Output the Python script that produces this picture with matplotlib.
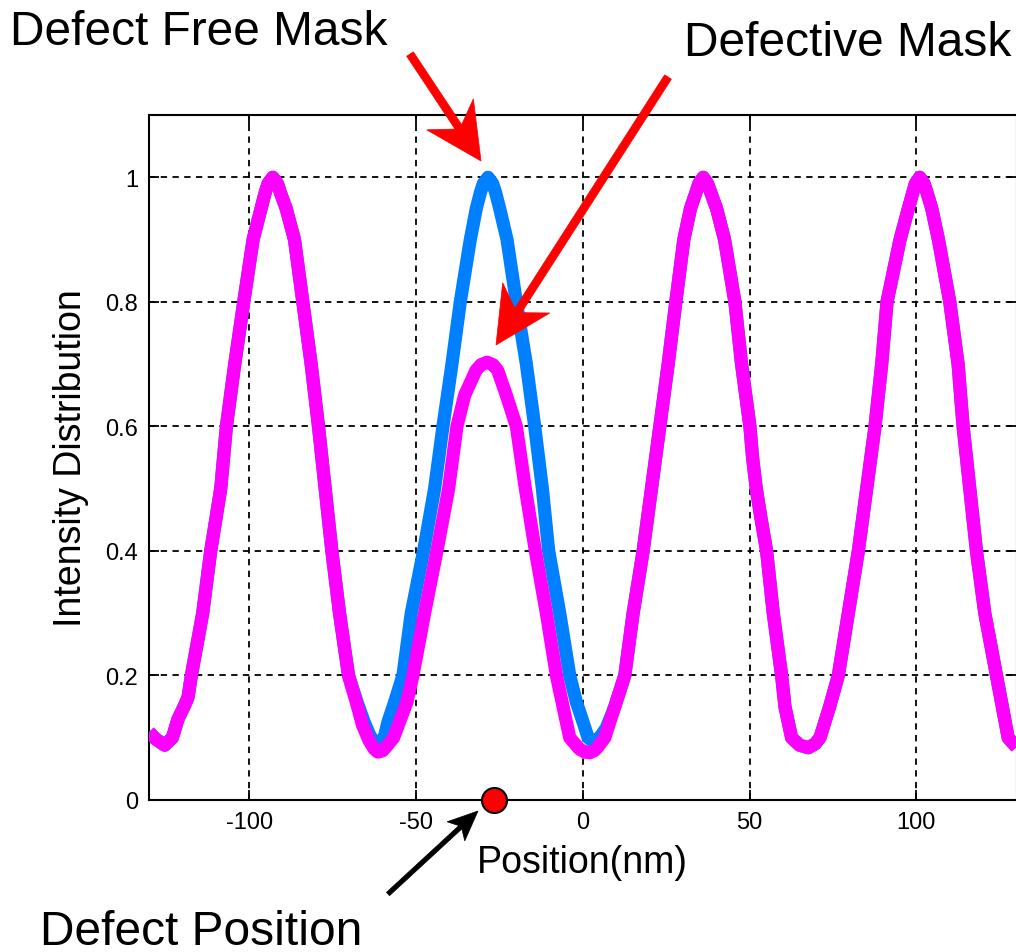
import numpy as np
import matplotlib
matplotlib.use('Agg')
import matplotlib.pyplot as plt
from matplotlib.patches import Polygon

# Intensity profiles across the line pattern (nm, normalised intensity)
free_pos = [-130, -128, -125.3, -123, -121.3, -119.5, -118.3, -117.3, -113.9, -111.5,
            -108.5, -106.8, -104.3, -101.6, -98.8, -96.4, -95.2, -94.3, -92.9, -91.5,
            -90.6, -88.9, -86.4, -83.9, -81.4, -79.2, -77.2, -75.2, -72.9, -70.2,
            -67.5, -65.5, -63.5, -62.3, -61.4, -60.3, -59.5, -58.4, -56.4, -53.9,
            -51.4, -47.7, -44.4, -41.9, -39.2, -36.7, -33.7, -31.9, -30.7, -29.8,
            -28.4, -27.0, -26.1, -24.9, -22.7, -19.9, -16.9, -14.4, -12.1, -10.2,
            -6.9, -3.9, -1.9, 0.1, 1.6, 2.9, 4.2, 5.0, 7.0, 9.6,
            12.6, 15.1, 18.1, 20.6, 23.1, 25.6, 27.9, 30.3, 32.3, 33.9,
            34.8, 36.1, 37.4, 38.4, 40.1, 42.5, 45.6, 47.6, 50.1, 50.9,
            52.0, 53.5, 55.1, 57.1, 59.6, 60.6, 62.6, 65.0, 67.6, 69.6,
            71.1, 74.0, 76.6, 79.6, 82.6, 85.1, 87.6, 89.6, 91.2, 95.1,
            97.6, 98.9, 99.7, 101.0, 102.3, 103.2, 104.6, 106.6, 110.0, 112.5,
            114.0, 116.0, 118.0, 120.5, 124.0, 127.5, 130]
free_int = [0.109, 0.098, 0.088, 0.10, 0.13, 0.15, 0.165, 0.20, 0.30, 0.40,
            0.50, 0.60, 0.70, 0.80, 0.90, 0.95, 0.975, 0.99, 1.00, 0.99,
            0.975, 0.95, 0.90, 0.80, 0.70, 0.60, 0.50, 0.40, 0.30, 0.20,
            0.155, 0.125, 0.10, 0.095, 0.093, 0.095, 0.10, 0.125, 0.157, 0.20,
            0.30, 0.40, 0.50, 0.60, 0.70, 0.80, 0.90, 0.95, 0.975, 0.99,
            1.00, 0.99, 0.975, 0.95, 0.90, 0.80, 0.70, 0.60, 0.50, 0.40,
            0.30, 0.20, 0.157, 0.125, 0.10, 0.095, 0.097, 0.10, 0.115, 0.15,
            0.20, 0.30, 0.40, 0.50, 0.60, 0.70, 0.80, 0.90, 0.95, 0.975,
            0.99, 1.00, 0.99, 0.975, 0.95, 0.90, 0.80, 0.70, 0.60, 0.55,
            0.50, 0.45, 0.40, 0.30, 0.20, 0.15, 0.10, 0.088, 0.084, 0.09,
            0.10, 0.15, 0.20, 0.30, 0.40, 0.50, 0.60, 0.70, 0.80, 0.90,
            0.95, 0.975, 0.99, 1.00, 0.99, 0.975, 0.95, 0.90, 0.80, 0.70,
            0.60, 0.50, 0.40, 0.30, 0.20, 0.10, 0.085]

defect_pos = [-130, -128, -125.3, -123, -121.3, -119.5, -118.3, -117.3, -113.9, -111.5,
              -108.5, -106.8, -104.3, -101.6, -98.8, -96.4, -95.2, -94.3, -92.9, -91.5,
              -90.6, -88.9, -86.4, -83.9, -81.4, -79.2, -77.2, -75.2, -72.9, -70.2,
              -67.5, -66.0, -64.0, -62.5, -61.4, -60.0, -59.0, -56.7, -52.7, -50.9,
              -47.4, -43.7, -40.2, -37.7, -35.4, -32.0, -30.5, -28.7, -26.9, -25.5,
              -22.9, -19.9, -17.2, -14.2, -10.9, -7.9, -3.9, -1.0, 0.6, 2.1,
              3.4, 4.5, 6.6, 9.6, 12.6, 15.1, 18.1, 20.6, 23.1, 25.6,
              27.9, 30.3, 32.3, 33.9, 34.8, 36.1, 37.4, 38.4, 40.1, 42.5,
              45.6, 47.6, 50.1, 50.9, 52.0, 53.5, 55.1, 57.1, 59.6, 60.6,
              62.6, 65.0, 67.6, 69.6, 71.1, 74.0, 76.6, 79.6, 82.6, 85.1,
              87.6, 89.6, 91.2, 95.1, 97.6, 98.9, 99.7, 101.0, 102.3, 103.2,
              104.6, 106.6, 110.0, 112.5, 114.0, 116.0, 118.0, 120.5, 124.0, 127.5,
              130]
defect_int = [0.109, 0.098, 0.088, 0.10, 0.13, 0.15, 0.165, 0.20, 0.30, 0.40,
              0.50, 0.60, 0.70, 0.80, 0.90, 0.95, 0.975, 0.99, 1.00, 0.99,
              0.975, 0.95, 0.90, 0.80, 0.70, 0.60, 0.50, 0.40, 0.30, 0.20,
              0.15, 0.12, 0.095, 0.082, 0.077, 0.079, 0.085, 0.10, 0.157, 0.20,
              0.30, 0.40, 0.50, 0.60, 0.65, 0.69, 0.699, 0.703, 0.699, 0.69,
              0.65, 0.60, 0.50, 0.40, 0.30, 0.20, 0.10, 0.082, 0.077, 0.076,
              0.079, 0.085, 0.10, 0.15, 0.20, 0.30, 0.40, 0.50, 0.60, 0.70,
              0.80, 0.90, 0.95, 0.975, 0.99, 1.00, 0.99, 0.975, 0.95, 0.90,
              0.80, 0.70, 0.60, 0.55, 0.50, 0.45, 0.40, 0.30, 0.20, 0.15,
              0.10, 0.088, 0.084, 0.09, 0.10, 0.15, 0.20, 0.30, 0.40, 0.50,
              0.60, 0.70, 0.80, 0.90, 0.95, 0.975, 0.99, 1.00, 0.99, 0.975,
              0.95, 0.90, 0.80, 0.70, 0.60, 0.50, 0.40, 0.30, 0.20, 0.10,
              0.085]

defect_x = -26.6
xticks = [-100, -50, 0, 50, 100]
yticks = [0, 0.2, 0.4, 0.6, 0.8, 1.0]
ytick_labels = ['0', '0.2', '0.4', '0.6', '0.8', '1']

W, H = 1016, 953


def draw_arrow(fig, tail, tip, shaft_w, head_len, head_w, notch, color):
    # arrow with a notched head, coordinates in pixels from the top-left corner
    tail = np.array(tail, float)
    tip = np.array(tip, float)
    u = (tip - tail) / np.linalg.norm(tip - tail)
    n = np.array([-u[1], u[0]])
    neck = tip - (head_len - notch) * u
    wing = tip - head_len * u
    pts = [tail + n * shaft_w / 2, neck + n * shaft_w / 2, wing + n * head_w / 2, tip,
           wing - n * head_w / 2, neck - n * shaft_w / 2, tail - n * shaft_w / 2]
    pts = [(p[0] / W, 1 - p[1] / H) for p in pts]
    fig.patches.append(Polygon(pts, closed=True, facecolor=color, edgecolor=color,
                               linewidth=0.5, transform=fig.transFigure, figure=fig))


plt.rcParams['font.family'] = ['Liberation Sans', 'DejaVu Sans']
plt.rcParams['axes.unicode_minus'] = False

fig = plt.figure(figsize=(W / 100, H / 100), dpi=100)
ax = fig.add_axes([149 / W, 152 / H, 867.5 / W, 685 / H])

ax.plot(free_pos, free_int, color='#0080ff', linewidth=9.5,
        solid_joinstyle='round', solid_capstyle='butt', zorder=3)
ax.plot(defect_pos, defect_int, color='#ff00ff', linewidth=9.5,
        solid_joinstyle='round', solid_capstyle='butt', zorder=4)
ax.plot([defect_x], [0], 'o', markersize=18, markerfacecolor='#ff0000',
        markeredgecolor='black', markeredgewidth=1.5, clip_on=False, zorder=6)

ax.set_xlim(-130, 130)
ax.set_ylim(0, 1.1)
ax.set_xticks(xticks)
ax.set_xticklabels([str(t) for t in xticks])
ax.set_yticks(yticks)
ax.set_yticklabels(ytick_labels)
ax.grid(True, color='black', linestyle=(0, (3.5, 3)), linewidth=1.3)
ax.set_axisbelow(True)
ax.tick_params(direction='in', length=7, width=1.3, labelsize=17, top=True, right=True,
               pad=8, colors='black')
for s in ax.spines.values():
    s.set_linewidth(1.5)

ax.set_xlabel('Position(nm)', fontsize=27, labelpad=7.5)
ax.set_ylabel('Intensity Distribution', fontsize=27, labelpad=11.5)

fig.text(10 / W, 1 - 45 / H, 'Defect Free Mask', fontsize=34.5, ha='left', va='baseline')
fig.text(684 / W, 1 - 56 / H, 'Defective Mask', fontsize=34.5, ha='left', va='baseline')
fig.text(40 / W, 1 - 945 / H, 'Defect Position', fontsize=34.5, ha='left', va='baseline')

draw_arrow(fig, (410, 55), (481, 162), 8, 56, 56, 15, '#ff0000')
draw_arrow(fig, (668, 78), (496, 346), 8, 56, 56, 15, '#ff0000')
draw_arrow(fig, (388, 895), (478, 812), 4.5, 30, 26, 6, 'black')

fig.savefig('out.png', dpi=100)
